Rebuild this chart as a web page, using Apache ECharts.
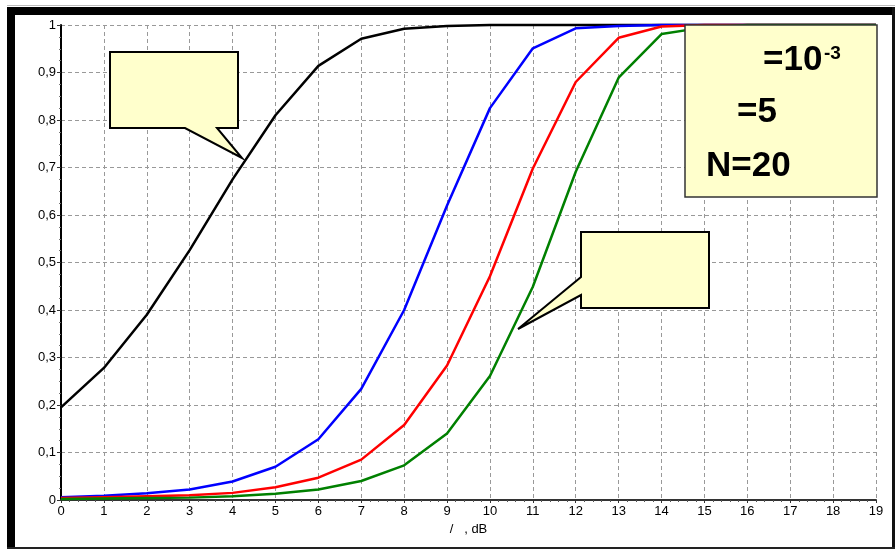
<!DOCTYPE html>
<html>
<head>
<meta charset="utf-8">
<script src="https://cdn.jsdelivr.net/npm/echarts@6/dist/echarts.min.js"></script>
<style>
html,body{margin:0;padding:0;background:#fff;}
#chart{width:895px;height:551px;}
</style>
</head>
<body>
<div id="chart"></div>
<script>
// x values (dB)
var xValues = [0,1,2,3,4,5,6,7,8,9,10,11,12,13,14,15,16,17,18,19];
var blackSeries = [0.195,0.278,0.39,0.526,0.675,0.81,0.914,0.971,0.992,0.998,1,1,1,1,1,1,1,1,1,1];
var blueSeries  = [0.006,0.009,0.014,0.022,0.039,0.07,0.128,0.234,0.4,0.62,0.825,0.951,0.993,0.998,1,1,1,1,1,1];
var redSeries   = [0.004,0.006,0.008,0.01,0.015,0.027,0.047,0.085,0.158,0.283,0.471,0.698,0.88,0.973,0.997,1,1,1,1,1];
var greenSeries = [0.002,0.003,0.004,0.005,0.008,0.013,0.022,0.04,0.073,0.14,0.261,0.449,0.691,0.889,0.981,0.995,1,1,1,1];
var xAxisName = "/   , dB";
var noteLines = ["=10", "-3", "=5", "N=20"];

function pairs(ys){ return xValues.map(function(x,i){ return [x, ys[i]]; }); }

var chart = echarts.init(document.getElementById('chart'), null, {renderer:'canvas'});
var font = 'Liberation Sans, Arial, sans-serif';
function mkLine(data, color){
  return {type:'line', data: pairs(data), symbol:'none', clip:false,
    lineStyle:{color:color, width:2.5}, z:3, animation:false};
}
var bubbleFill = '#FFFFCC';
chart.setOption({
  animation:false,
  backgroundColor:'#ffffff',
  grid:{left:61, top:25, width:815, height:475, containLabel:false},
  xAxis:{type:'value', min:0, max:19, interval:1,
    name: xAxisName, nameLocation:'middle', nameGap:22,
    nameTextStyle:{color:'#000', fontSize:13, fontFamily:font},
    axisLine:{lineStyle:{color:'#333', width:2}},
    axisTick:{show:true, length:3, lineStyle:{color:'#333'}},
    minorTick:{show:true, splitNumber:5, length:2, lineStyle:{color:'#555'}},
    axisLabel:{color:'#000', fontSize:13, fontFamily:font, margin:5},
    splitLine:{show:true, lineStyle:{color:'#999', type:[4,3], width:1}}
  },
  yAxis:{type:'value', min:0, max:1, interval:0.1,
    axisLine:{show:true, lineStyle:{color:'#000', width:2}},
    axisTick:{show:true, length:4, lineStyle:{color:'#333'}},
    minorTick:{show:true, splitNumber:4, length:2, lineStyle:{color:'#777'}},
    axisLabel:{color:'#000', fontSize:13, fontFamily:font, margin:5,
      formatter:function(v){ return String(+v.toFixed(1)).replace('.', ','); }},
    splitLine:{show:true, lineStyle:{color:'#999', type:[4,3], width:1}}
  },
  series:[
    mkLine(blackSeries,'#000000'),
    mkLine(blueSeries,'#0000FF'),
    mkLine(redSeries,'#FF0000'),
    mkLine(greenSeries,'#008000')
  ],
  graphic:[
    // outer frame
    {type:'rect', shape:{x:7,y:5,width:888,height:1}, style:{fill:'#bbbbbb'}, z:100},
    {type:'rect', shape:{x:7,y:7,width:888,height:8}, style:{fill:'#000'}, z:100},
    {type:'rect', shape:{x:7,y:7,width:8,height:542}, style:{fill:'#000'}, z:100},
    {type:'rect', shape:{x:892,y:7,width:3,height:542}, style:{fill:'#111'}, z:100},
    {type:'rect', shape:{x:7,y:547,width:888,height:2}, style:{fill:'#222'}, z:100},
    // callout 1
    {type:'polygon', shape:{points:[[110,52],[238,52],[238,128],[217,128],[242,158],[185,128],[110,128]]},
      style:{fill:bubbleFill, stroke:'#000', lineWidth:2}, z:100},
    // callout 2
    {type:'polygon', shape:{points:[[581,232],[709,232],[709,308],[581,308],[581,295],[518,329],[581,277]]},
      style:{fill:bubbleFill, stroke:'#000', lineWidth:2}, z:100},
    // note box
    {type:'rect', shape:{x:685,y:25,width:192,height:172},
      style:{fill:bubbleFill, stroke:'#333', lineWidth:1.5}, z:100},
    {type:'text', x:763, y:60, style:{text:noteLines[0], font:'bold 35px '+font, fill:'#000', verticalAlign:'middle'}, z:101},
    {type:'text', x:824, y:54, style:{text:noteLines[1], font:'bold 19px '+font, fill:'#000', verticalAlign:'middle'}, z:101},
    {type:'text', x:737, y:112, style:{text:noteLines[2], font:'bold 35px '+font, fill:'#000', verticalAlign:'middle'}, z:101},
    {type:'text', x:706, y:166, style:{text:noteLines[3], font:'bold 35px '+font, fill:'#000', verticalAlign:'middle'}, z:101}
  ]
});
</script>
</body>
</html>
